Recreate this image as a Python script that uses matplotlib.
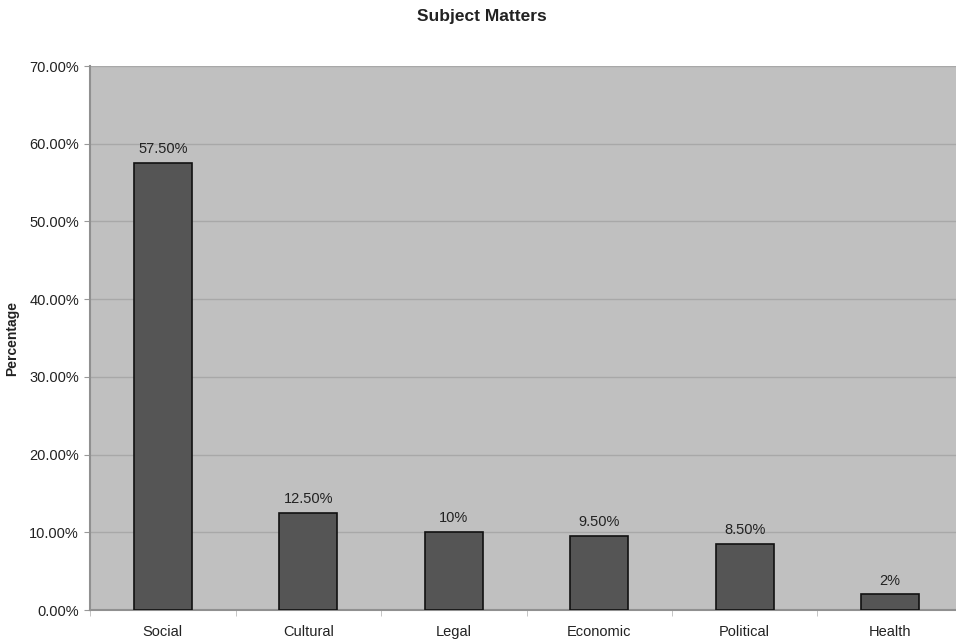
import matplotlib
matplotlib.use("Agg")
import matplotlib.pyplot as plt
import numpy as np

categories = ["Social", "Cultural", "Legal", "Economic", "Political", "Health"]
values = [57.5, 12.5, 10.0, 9.5, 8.5, 2.0]
value_labels = ["57.50%", "12.50%", "10%", "9.50%", "8.50%", "2%"]
yticks = [0, 10, 20, 30, 40, 50, 60, 70]
ytick_labels = ["0.00%", "10.00%", "20.00%", "30.00%", "40.00%", "50.00%", "60.00%", "70.00%"]

plt.rcParams['font.family'] = ['Liberation Sans', 'DejaVu Sans']
txt = "#222222"

fig = plt.figure(figsize=(9.56, 6.42), dpi=100)
ax = fig.add_axes([90/956, 1-610/642, 873/956, (610-66)/642])
ax.set_facecolor("#c0c0c0")

x = np.arange(len(categories))
ax.bar(x, values, width=0.4, color="#555555", edgecolor="#111111", linewidth=1.2, zorder=3)
for xi, v, lab in zip(x, values, value_labels):
    ax.annotate(lab, (xi, v), xytext=(0, 5), textcoords="offset points",
                ha="center", va="bottom", fontsize=10.5, color=txt)

ax.set_xlim(-0.5, len(categories) - 0.5)
ax.set_ylim(0, 70)
ax.set_yticks(yticks)
ax.set_yticklabels(ytick_labels, fontsize=10.5, color=txt)
ax.yaxis.grid(True, color="#a8a8a8", linewidth=1.0, zorder=0)
ax.set_axisbelow(True)

ax.set_xticks(x)
ax.set_xticklabels(categories, fontsize=10.5, color=txt)
ax.set_xticks(np.arange(len(categories) + 1) - 0.5, minor=True)
ax.tick_params(axis="x", which="major", length=0, pad=11)
ax.tick_params(axis="x", which="minor", length=4, color="#bbbbbb")
ax.tick_params(axis="y", length=4, color="#999999", pad=4)

for s in ["top", "right"]:
    ax.spines[s].set_visible(False)
ax.spines["left"].set_color("#909090")
ax.spines["bottom"].set_color("#909090")
ax.spines["left"].set_linewidth(1.5)
ax.spines["bottom"].set_linewidth(1.5)

ax.set_ylabel("Percentage", fontsize=10, fontweight="bold", color=txt, labelpad=7)
fig.text(482/956, 1-16/642, "Subject Matters", ha="center", va="center",
         fontsize=12.5, fontweight="bold", color=txt)

fig.savefig("out.png", dpi=100)
